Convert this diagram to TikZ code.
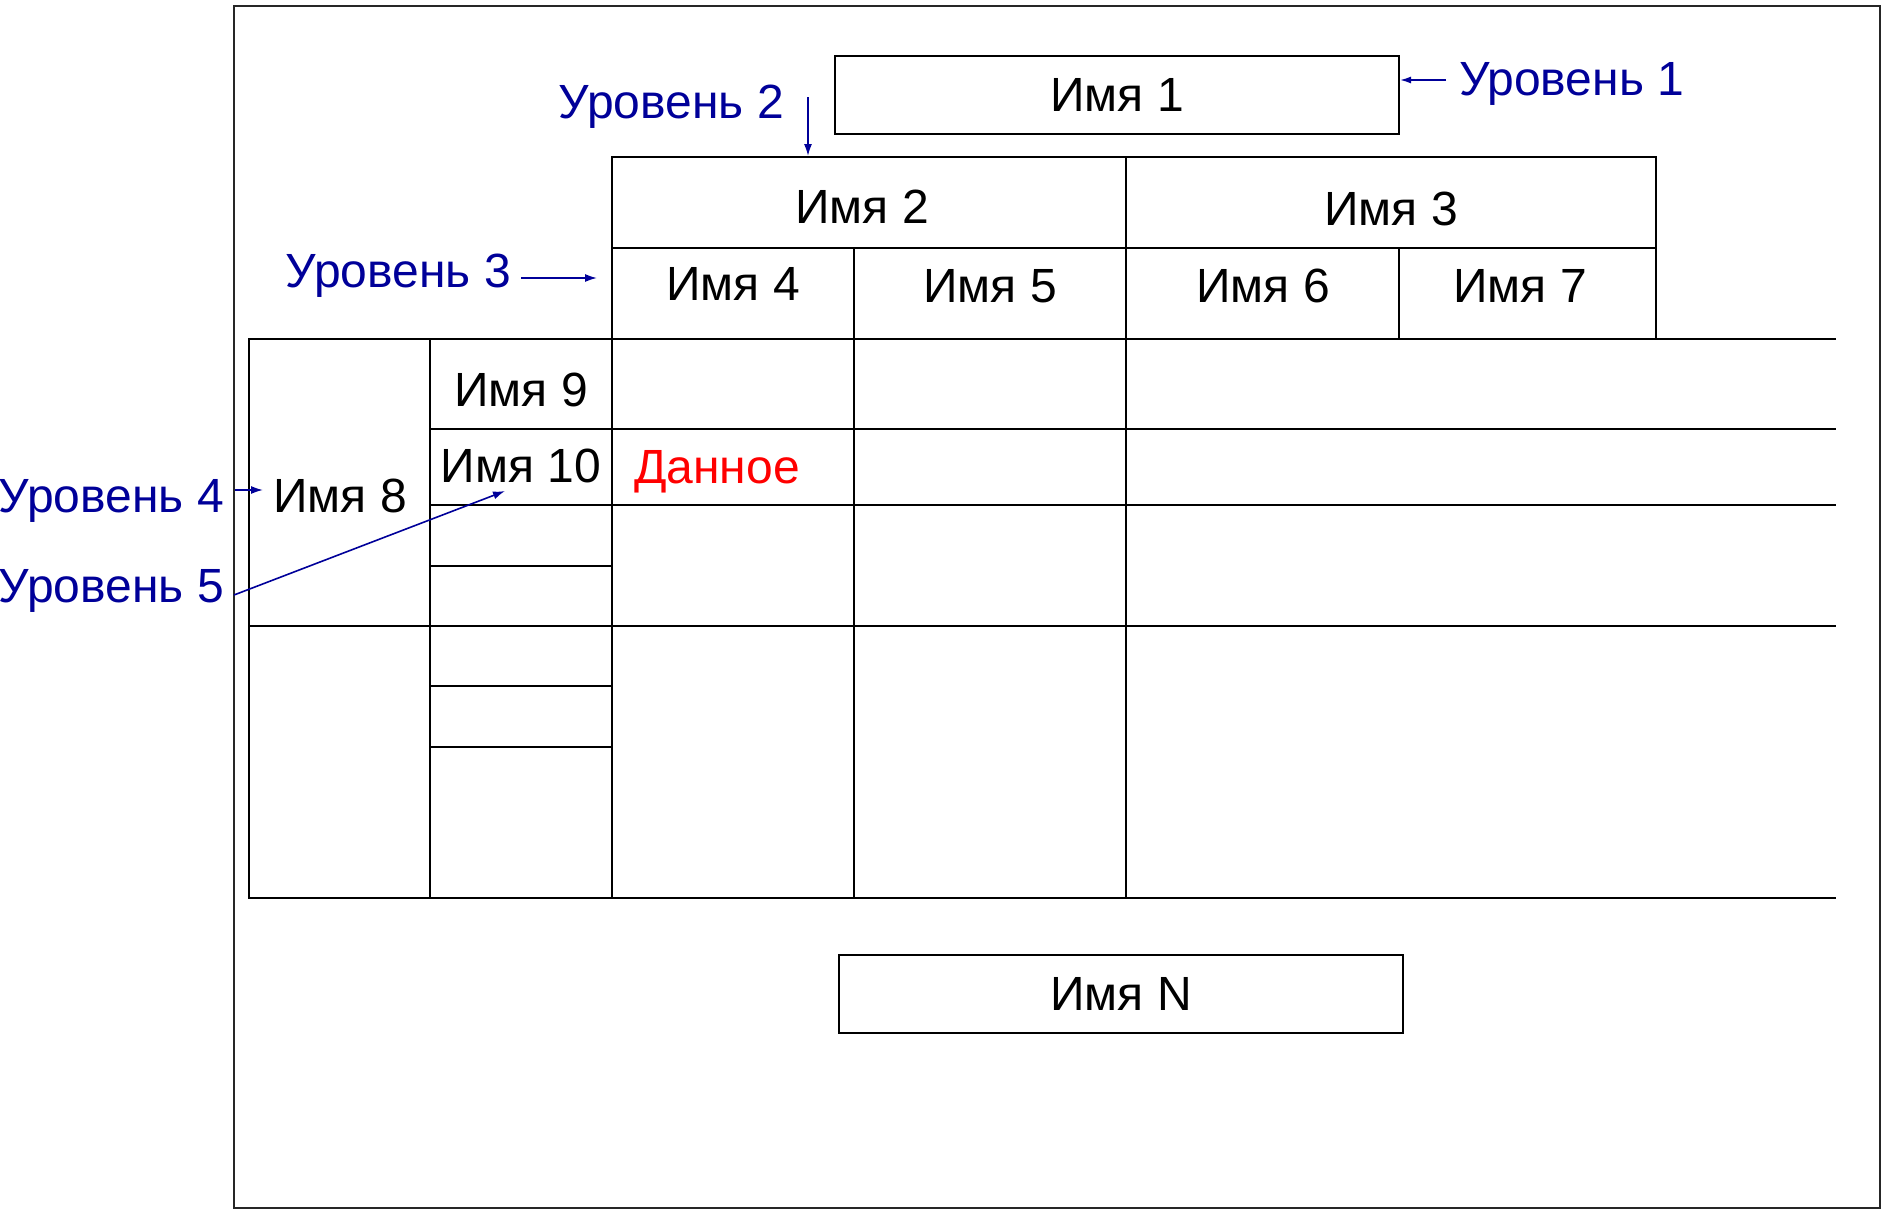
\documentclass[tikz,border=0pt]{standalone}
\usepackage{fontspec}
\setmainfont{Liberation Sans}
\usetikzlibrary{arrows.meta}
\definecolor{lvblue}{RGB}{0,0,153}
\definecolor{datared}{RGB}{255,0,0}
\begin{document}
\begin{tikzpicture}[x=1pt,y=-1pt,
  grid/.style={line width=2pt, black},
  frame/.style={line width=1.6pt, black!85},
  txt/.style={inner sep=0pt, font=\fontsize{48}{52}\selectfont},
  cell/.style={txt, anchor=base},
  lvl/.style={txt, text=lvblue},
  lvarrow/.style={lvblue, line width=1.6pt, -{Latex[length=12pt,width=8pt]}},
  namebox/.style={draw, line width=2pt, txt, minimum width=564pt, minimum height=78pt}
]
\useasboundingbox (0,0) rectangle (1884,1210);

% outer sheet
\draw[frame] (234,6) rectangle (1880,1208);

% top and bottom title boxes
\node[namebox] (n1) at (1117,95) {Имя 1};
\node[namebox] (nN) at (1121,994) {Имя N};

% column header block
\draw[grid] (612,157) rectangle (1656,339);
\draw[grid] (612,248) -- (1656,248);
\draw[grid] (1399,248) -- (1399,339);

% body of the table (open on the right)
\draw[grid] (1836,339) -- (249,339) -- (249,898) -- (1836,898);
\draw[grid] (430,339) -- (430,898);
\draw[grid] (612,339) -- (612,898);
\draw[grid] (854,248) -- (854,898);
\draw[grid] (1126,157) -- (1126,898);
\draw[grid] (430,429) -- (1836,429);
\draw[grid] (430,505) -- (1836,505);
\draw[grid] (430,566) -- (612,566);
\draw[grid] (249,626) -- (1836,626);
\draw[grid] (430,686) -- (612,686);
\draw[grid] (430,747) -- (612,747);

% header names
\node[cell] (n2) at (862,223) {Имя 2};
\node[cell] (n3) at (1391,225) {Имя 3};
\node[cell] (n4) at (733,300) {Имя 4};
\node[cell] (n5) at (990,302) {Имя 5};
\node[cell] (n6) at (1263,302) {Имя 6};
\node[cell] (n7) at (1520,302) {Имя 7};

% row names
\node[cell] (n8) at (340,512) {Имя 8};
\node[cell] (n9) at (521,406) {Имя 9};
\node[cell] (n10) at (521,482) {Имя 10};
\node[cell, anchor=base west, text=datared] (dat) at (634,483) {Данное};

% level labels
\node[lvl, anchor=base west] (lev1) at (1459,95) {Уровень 1};
\node[lvl, anchor=base east] (lev2) at (784,118) {Уровень 2};
\node[lvl, anchor=base east] (lev3) at (511,287) {Уровень 3};
\node[lvl, anchor=base east] (lev4) at (224,512) {Уровень 4};
\node[lvl, anchor=base east] (lev5) at (224,602) {Уровень 5};

% level pointers
\coordinate (p1) at (1446,80);
\coordinate (p2) at (808,97);
\coordinate (t2) at (808,156);
\coordinate (p3) at (521,278);
\coordinate (t3) at (597,278);
\coordinate (p4) at (235,490);
\coordinate (t4) at (263,490);
\coordinate (p5) at (234,595);
\coordinate (t5) at (505,491);

\draw[lvarrow, -{Latex[length=11pt,width=7pt]}] (p1) -- (p1 -| n1.east);
\draw[lvarrow] (p2) -- (t2);
\draw[lvarrow] (p3) -- (t3);
\draw[lvarrow] (p4) -- (t4);
\draw[lvarrow] (p5) -- (t5);
\end{tikzpicture}
\end{document}
